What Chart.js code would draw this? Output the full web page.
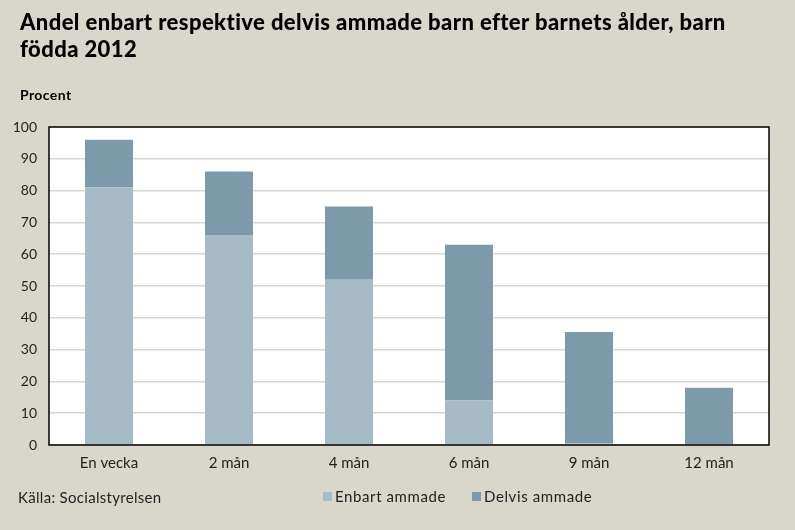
<!DOCTYPE html>
<html>
<head>
<meta charset="utf-8">
<script src="https://cdn.jsdelivr.net/npm/chart.js@4/dist/chart.umd.min.js"></script>
<style>
  html, body { margin: 0; padding: 0; }
  body { width: 795px; height: 530px; background: #D9D7CB; position: relative; overflow: hidden; font-family: Lato, "DejaVu Sans", sans-serif; color: #000; }
  #title { position: absolute; left: 20px; top: 8px; width: 770px; font-size: 22px; font-weight: 900; line-height: 27px; letter-spacing: 0.4px; white-space: nowrap; }
  #unit { position: absolute; left: 20px; top: 86px; font-size: 14px; font-weight: bold; letter-spacing: 0.4px; }
  #source { position: absolute; left: 18px; top: 488px; font-size: 15px; color: #222; letter-spacing: 0.3px; }
  #legend { position: absolute; left: 323px; top: 487px; font-size: 15px; color: #222; display: flex; letter-spacing: 0.6px; }
  #legend span.item { display: flex; align-items: center; margin-right: 26px; }
  #legend span.box { display: inline-block; width: 9px; height: 9px; margin-right: 3px; }
  #wrap { position: absolute; left: 0; top: 0; width: 795px; height: 530px; }
</style>
</head>
<body>
<div id="wrap"><canvas id="chart"></canvas></div>
<div id="title">Andel enbart respektive delvis ammade barn efter barnets ålder, barn<br>födda 2012</div>
<div id="unit">Procent</div>
<div id="source">Källa: Socialstyrelsen</div>
<div id="legend"></div>
<script>
const categories = ['En vecka', '2 mån', '4 mån', '6 mån', '9 mån', '12 mån'];
const enbart = [81, 66, 52, 14, 0.5, 0];
const delvis = [15, 20, 23, 49, 35, 18];
const seriesNames = ['Enbart ammade', 'Delvis ammade'];
const seriesColors = ['#A7BBC6', '#7D9AAA'];

// white plot area with a black frame round it
const frame = {
    id: 'frame',
    beforeDraw(chart) {
        const a = chart.chartArea;
        const ctx = chart.ctx;
        ctx.save();
        ctx.fillStyle = '#fff';
        ctx.fillRect(a.left, a.top, a.right - a.left, a.bottom - a.top);
        ctx.restore();
    },
    afterDraw(chart) {
        const a = chart.chartArea;
        const ctx = chart.ctx;
        ctx.save();
        ctx.strokeStyle = '#000';
        ctx.lineWidth = 1.5;
        ctx.strokeRect(a.left, a.top, a.right - a.left, a.bottom - a.top);
        ctx.restore();
    }
};

const chart = new Chart(document.getElementById('chart'), {
    type: 'bar',
    data: {
        labels: categories,
        datasets: [
            { label: seriesNames[0], data: enbart, backgroundColor: seriesColors[0] },
            { label: seriesNames[1], data: delvis, backgroundColor: seriesColors[1] }
        ]
    },
    options: {
        responsive: true,
        maintainAspectRatio: false,
        animation: false,
        layout: { padding: { top: 127, left: 0, right: 26, bottom: 55 } },
        datasets: { bar: { categoryPercentage: 1, barPercentage: 0.4 } },
        plugins: {
            legend: { display: false },
            tooltip: { enabled: false }
        },
        scales: {
            x: {
                stacked: true,
                grid: { display: false, drawTicks: false },
                border: { display: false },
                ticks: { color: '#222', font: { family: 'Lato', size: 15 }, padding: 9 },
                afterFit(axis) { axis.height = 30; }
            },
            y: {
                stacked: true,
                min: 0,
                max: 100,
                ticks: { stepSize: 10, color: '#222', font: { family: 'Lato', size: 14 }, padding: 12 },
                grid: { color: '#D9D7CB', lineWidth: 1.5, drawTicks: false },
                border: { display: false },
                afterFit(axis) { axis.width = 49; }
            }
        }
    },
    plugins: [frame]
});

const legend = document.getElementById('legend');
chart.data.datasets.forEach(ds => {
    const item = document.createElement('span');
    item.className = 'item';
    item.innerHTML = `<span class="box" style="background:${ds.backgroundColor}"></span>${ds.label}`;
    legend.appendChild(item);
});
</script>
</body>
</html>
